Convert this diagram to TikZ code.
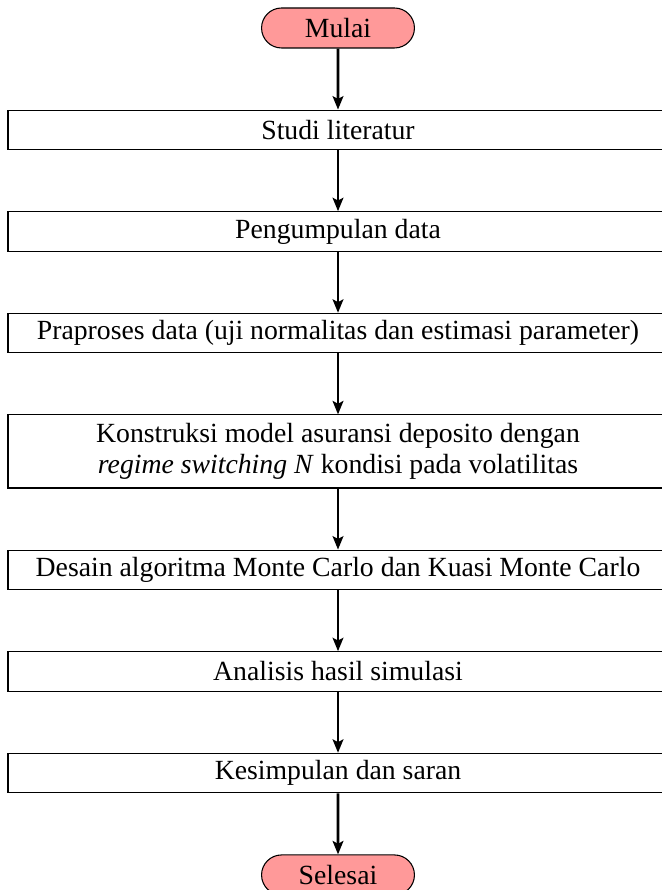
\documentclass[tikz,border=0pt]{standalone}
\usepackage{fontspec}
\setmainfont{Liberation Serif}
\usepackage{xcolor}
\usepackage{tikz}
\usetikzlibrary{positioning, shapes.misc, arrows.meta}
\tikzstyle{Arrow} = [
line width=1pt, 
-{Stealth[length=5pt, width=4pt, inset=1pt]}
]
\tikzstyle{Proses} = [draw, thin, font=\fontsize{10.4pt}{11.5pt}\selectfont, inner ysep=2.5pt, minimum width=247.5pt, minimum height=14.8pt, align=center]
\tikzstyle{Terminal} = [draw, thin, rounded rectangle, fill=red!40, font=\fontsize{10.4pt}{11.5pt}\selectfont, minimum width=64pt, minimum height=15pt]

\begin{document}
\begin{tikzpicture}[node distance=22.9pt]
			\useasboundingbox (0,0) rectangle (247.875pt,-333.75pt);
			\node [Terminal] (1) at (126.75pt,-10.5pt) {Mulai};
			\node [Proses, below =of 1] (2) {Studi literatur};
			\node [Proses, below =of 2] (3) {Pengumpulan data};
			\node [Proses, below =of 3] (4) {Praproses data (uji normalitas dan estimasi parameter)};
			\node [Proses, below =of 4, minimum height=27.4pt] (5) {Konstruksi model asuransi deposito dengan\\ \textit{regime switching N} kondisi pada volatilitas};
			\node [Proses, below =of 5] (6) {Desain algoritma Monte Carlo dan Kuasi Monte Carlo};
			\node [Proses, below =of 6] (7) {Analisis hasil simulasi};
			\node [Proses, below =of 7] (8) {Kesimpulan dan saran};
			\node [Terminal, below =of 8] (9) {Selesai};
			
			\draw[Arrow] (1) -- (2);
			\draw[Arrow] (2) -- (3);
			\draw[Arrow] (3) -- (4);
			\draw[Arrow] (4) -- (5);
			\draw[Arrow] (5) -- (6);
			\draw[Arrow] (6) -- (7);
			\draw[Arrow] (7) -- (8);
			\draw[Arrow] (8) -- (9);
		\end{tikzpicture}
\end{document}
